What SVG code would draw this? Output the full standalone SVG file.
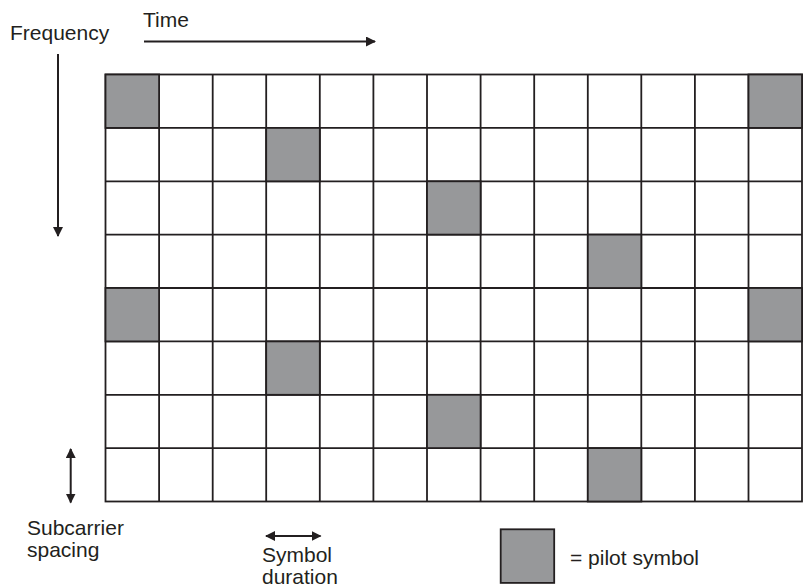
<svg xmlns="http://www.w3.org/2000/svg" width="803" height="586" viewBox="0 0 803 586">
<style>
.t{font-family:"Liberation Sans",Arial,sans-serif;font-size:21px;fill:#231f20}
.cell{fill:#fff;stroke:#231f20;stroke-width:1.8}
.pilot{fill:#97989a;stroke:#231f20;stroke-width:1.8}
.ax{stroke:#231f20;stroke-width:2;fill:none}
</style>
<defs>
<marker id="ah" viewBox="0 0 10 10" refX="9" refY="5" markerWidth="5" markerHeight="5" orient="auto-start-reverse" markerUnits="strokeWidth">
<path d="M0,0 L10,5 L0,10 z" fill="#231f20"/>
</marker>
</defs>
<rect width="803" height="586" fill="#fff"/>
<g id="grid">
<rect class="cell" x="105.5" y="74.5" width="696.5" height="427"/>
<path class="ax" style="stroke-width:1.8" d="M159.1,74.5V501.5M212.7,74.5V501.5M266.2,74.5V501.5M319.8,74.5V501.5M373.4,74.5V501.5M427,74.5V501.5M480.6,74.5V501.5M534.2,74.5V501.5M587.8,74.5V501.5M641.3,74.5V501.5M694.9,74.5V501.5M748.5,74.5V501.5M105.5,127.9H802M105.5,181.3H802M105.5,234.6H802M105.5,288H802M105.5,341.4H802M105.5,394.8H802M105.5,448.1H802"/>
</g>
<g id="pilots">
<rect class="pilot" x="105.5" y="74.5" width="53.6" height="53.4"/>
<rect class="pilot" x="748.5" y="74.5" width="53.5" height="53.4"/>
<rect class="pilot" x="266.2" y="127.9" width="53.6" height="53.4"/>
<rect class="pilot" x="427" y="181.3" width="53.6" height="53.3"/>
<rect class="pilot" x="587.8" y="234.6" width="53.5" height="53.4"/>
<rect class="pilot" x="105.5" y="288" width="53.6" height="53.4"/>
<rect class="pilot" x="748.5" y="288" width="53.5" height="53.4"/>
<rect class="pilot" x="266.2" y="341.4" width="53.6" height="53.4"/>
<rect class="pilot" x="427" y="394.8" width="53.6" height="53.3"/>
<rect class="pilot" x="587.8" y="448.1" width="53.5" height="53.4"/>
</g>
<g id="connectors">
<line class="ax" x1="144" y1="41.5" x2="375" y2="41.5" marker-end="url(#ah)"/>
<line class="ax" x1="58" y1="54" x2="58" y2="236" marker-end="url(#ah)"/>
<line class="ax" x1="70.7" y1="449" x2="70.7" y2="502.5" marker-start="url(#ah)" marker-end="url(#ah)"/>
<line class="ax" x1="266" y1="536" x2="320.5" y2="536" marker-start="url(#ah)" marker-end="url(#ah)"/>
</g>
<g id="labels">
<text class="t" x="10" y="40">Frequency</text>
<text class="t" x="143" y="27">Time</text>
<text class="t" x="27" y="535">Subcarrier</text>
<text class="t" x="27" y="557">spacing</text>
<text class="t" x="262" y="562">Symbol</text>
<text class="t" x="262" y="584">duration</text>
</g>
<g id="legend">
<rect class="pilot" x="500.7" y="529.3" width="53.5" height="53.6"/>
<text class="t" x="570" y="565">= pilot symbol</text>
</g>
</svg>
